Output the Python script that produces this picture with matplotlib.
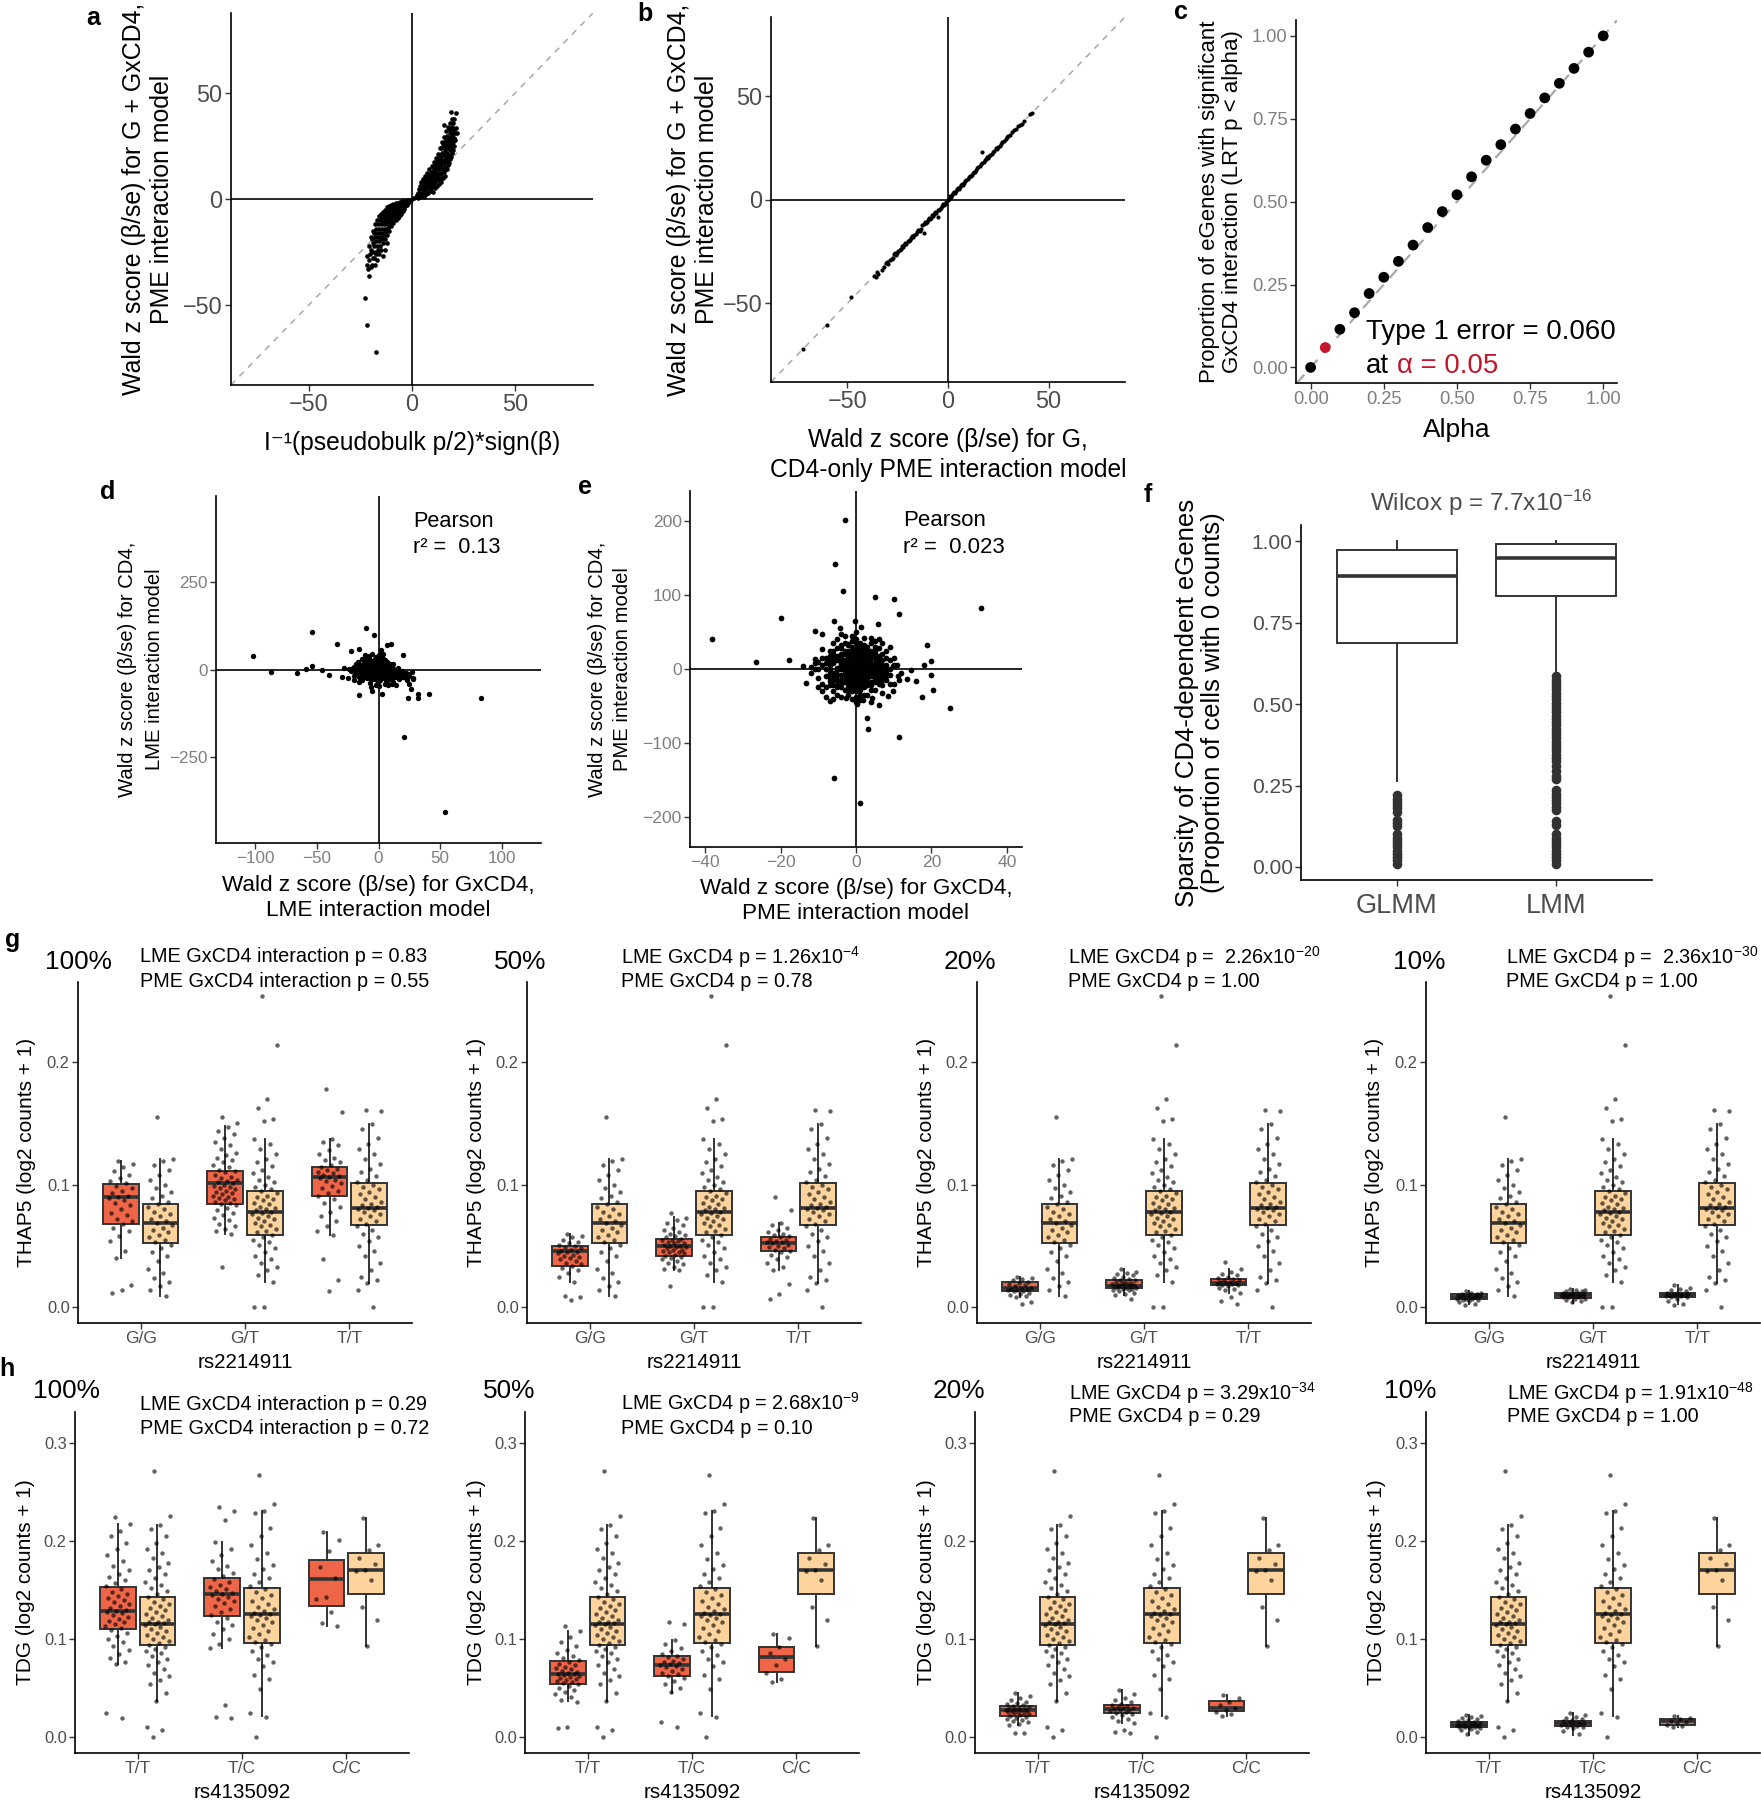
import numpy as np
import matplotlib
matplotlib.use("Agg")
import matplotlib.pyplot as plt

plt.rcParams['font.family'] = ['Liberation Sans', 'DejaVu Sans']
plt.rcParams['mathtext.fontset'] = 'custom'
plt.rcParams['mathtext.rm'] = 'Liberation Sans'
plt.rcParams['mathtext.it'] = 'Liberation Sans:italic'
plt.rcParams['mathtext.default'] = 'regular'

# ---------------- data ----------------
# a: pseudobulk vs PME Wald z (positive and negative arms)
a_pos = [(1, 0.5), (2, 1), (2.5, 2), (3, 0.5), (3, 3), (3.5, 4.5), (4, 1), (4, 3), (4, 6), (4.5, 8),
         (5, 2), (5, 4.5), (5, 7), (5.5, 9.5), (6, 1), (6, 3.5), (6, 6), (6, 8.5), (6.5, 11), (7, 2.5),
         (7, 5), (7, 7.5), (7, 10), (7.5, 12.5), (8, 3), (8, 6), (8, 9), (8, 11.5), (8.5, 14), (9, 4),
         (9, 7), (9, 10), (9, 13), (9.5, 15.5), (10, 3.5), (10, 6), (10, 9), (10, 12), (10, 15), (10.5, 17.5),
         (11, 5), (11, 8), (11, 11), (11, 14), (11, 17), (11.5, 19.5), (12, 6), (12, 9), (12, 12.5), (12, 16),
         (12, 19), (12.5, 21.5), (13, 7), (13, 10), (13, 14), (13, 17.5), (13, 21), (13.5, 24), (14, 8), (14, 12),
         (14, 16), (14, 20), (14, 24), (14.5, 27), (15, 10), (15, 14), (15, 18), (15, 22), (15, 26), (15.5, 29.5),
         (16, 11), (16, 15), (16, 19), (16, 23), (16, 27), (16.5, 32), (17, 14), (17, 18), (17, 22), (17, 26),
         (17, 30), (17.5, 34), (18, 17), (18, 21), (18, 25), (18, 29), (18, 33), (18.5, 36), (19, 20), (19, 24),
         (19, 28), (19, 32), (19, 41), (20, 23), (20, 27), (20, 31), (20, 36), (21, 28), (21, 31), (21.3, 40.6),
         (15.7, 35), (22, 31), (21.5, 33.5), (9.5, 5.5), (12.5, 14.5), (16.5, 21), (18.5, 27), (20.5, 25),
         (3.5, 1.5), (4.5, 2.5), (5.5, 3), (5.5, 6), (6.5, 4.5), (6.5, 7.5), (7.5, 3.5), (7.5, 6.5), (7.5, 9),
         (8.5, 5), (8.5, 8), (8.5, 10.5), (9.5, 8.5), (9.5, 12), (10.5, 7.5), (10.5, 10.5), (10.5, 13.5),
         (11.5, 9.5), (11.5, 12.5), (11.5, 16), (12.5, 11), (12.5, 18), (13.5, 9), (13.5, 12.5), (13.5, 16),
         (13.5, 19.5), (14.5, 10), (14.5, 14), (14.5, 18), (14.5, 22), (15.5, 13), (15.5, 17), (15.5, 21),
         (15.5, 25), (16.5, 14), (16.5, 18), (16.5, 25), (16.5, 28.5), (17.5, 16), (17.5, 20), (17.5, 24),
         (17.5, 28), (18.5, 19), (18.5, 23), (18.5, 31), (19.5, 22), (19.5, 26), (19.5, 30), (19.5, 34),
         (20.5, 29), (20.5, 33), (20.5, 38), (19.5, 38)]
a_neg = [(-0.5, -0.3), (-1, -0.5), (-1.5, -1), (-2, -0.5), (-2, -2), (-2.5, -1.5), (-3, -0.8), (-3, -2.5),
         (-3.5, -1.5), (-4, -1), (-4, -3), (-4, -4.5), (-5, -1), (-5, -3), (-5, -5.5), (-6, -1.5), (-6, -3.5),
         (-6, -6), (-6, -7.5), (-7, -2), (-7, -4), (-7, -6.5), (-7, -9), (-8, -2), (-8, -4.5), (-8, -7),
         (-8, -10), (-9, -2.5), (-9, -5), (-9, -8), (-9, -11.5), (-10, -3), (-10, -6), (-10, -9), (-10, -13),
         (-11, -3.5), (-11, -7), (-11, -10.5), (-11, -15), (-12, -4), (-12, -8), (-12, -12), (-12, -17),
         (-12, -21), (-13, -5), (-13, -9), (-13, -14), (-13, -19), (-13, -24), (-14, -6), (-14, -11),
         (-14, -16), (-14, -21), (-14, -27), (-15, -7), (-15, -12), (-15, -18), (-15, -24), (-16, -8),
         (-16, -14), (-16, -20), (-16, -26), (-17, -10), (-17, -16), (-17, -22), (-17, -29), (-18, -12),
         (-18, -18), (-18, -25), (-18, -31), (-19, -15), (-19, -21), (-19, -28), (-20, -18), (-20, -24),
         (-20, -32), (-20.7, -36.5), (-21, -22), (-21, -29), (-22, -31), (-22, -27), (-23, -47),
         (-21.8, -59.6), (-17.5, -72.3),
         (-2.5, -3), (-3.5, -3.5), (-4.5, -2), (-4.5, -5.5), (-5.5, -2.5), (-5.5, -4.5), (-5.5, -7),
         (-6.5, -3), (-6.5, -5), (-6.5, -8), (-7.5, -3), (-7.5, -5.5), (-7.5, -8.5), (-8.5, -3.5), (-8.5, -6),
         (-8.5, -9), (-9.5, -4), (-9.5, -7), (-9.5, -10.5), (-10.5, -4.5), (-10.5, -8), (-10.5, -12),
         (-11.5, -5.5), (-11.5, -9), (-11.5, -13.5), (-12.5, -6), (-12.5, -10), (-12.5, -15), (-13.5, -7.5),
         (-13.5, -12), (-13.5, -17), (-14.5, -9), (-14.5, -14), (-14.5, -19), (-15.5, -10), (-15.5, -16),
         (-15.5, -22), (-16.5, -12), (-16.5, -18), (-16.5, -24), (-17.5, -14), (-17.5, -20), (-17.5, -26),
         (-18.5, -16), (-18.5, -22), (-18.5, -28), (-19.5, -19), (-19.5, -25), (-19.5, -31), (-20.5, -26),
         (-21.5, -33)]

# b: G-only vs G + GxCD4 Wald z
b_pts = [(-72, -72), (-60, -60.5), (-48, -47), (-37, -37), (-36, -37.5), (-35, -36), (-33, -34), (-31, -30.5),
         (-30, -31), (-29, -29), (-28, -28.5), (-27, -26.5), (-26, -27), (-25, -25), (-24, -24.5), (-23, -22.5),
         (-22, -22), (-21, -21.5), (-20, -20), (-19, -19.5), (-18, -17.5), (-17, -17), (-16, -16.5), (-15, -14.5),
         (-14, -15), (-13, -12.5), (-12, -12), (-12, -16), (-11, -11.5), (-10, -10), (-9, -9.5), (-8, -7.5),
         (-7, -7), (-6, -6.5), (-5, -5), (-5, -8.5), (-4, -4.5), (-3, -3), (-2, -2.5), (-1, -1), (0, 0),
         (1, 1.5), (2, 2), (3, 3.5), (4, 4), (5, 5.5), (6, 6), (7, 7.5), (8, 8), (9, 9.5), (10, 10),
         (11, 11.5), (12, 12), (13, 13.5), (14, 14), (15, 15.5), (16, 16), (17, 23), (17, 17.5), (18, 18),
         (19, 19.5), (20, 20), (21, 21.5), (22, 22), (23, 23.5), (24, 25), (25, 25.5), (26, 26), (27, 27.5),
         (28, 28), (30, 30.5), (31, 31), (33, 33.5), (34, 34), (35, 35.5), (36, 36), (41, 41), (42, 41.5),
         (-26.5, -26), (-22.5, -23), (-18.5, -18.8), (-9.5, -9), (6.5, 7), (12.5, 12.8), (19.5, 20.3), (29, 29.3),
         (-35.5, -35), (-32, -32.5), (-30.5, -30), (-27.5, -28), (-25.5, -26), (-23.5, -24), (-21.5, -21),
         (-19.5, -20.2), (-17.5, -18), (-15.5, -15.5), (-13.5, -14), (-11.5, -11), (-10.5, -11), (-8.5, -9),
         (-7.5, -8), (-6.5, -6), (-4.5, -5), (-3.5, -4), (-2.5, -2), (-1.5, -2), (0.5, 0.3), (1.5, 1.2),
         (2.5, 3), (3.5, 3.2), (4.5, 5), (5.5, 5.2), (7.5, 7.2), (8.5, 9), (10.5, 11), (11.5, 11.2),
         (13.5, 13.2), (14.5, 15), (16.5, 17), (18.5, 19), (20.5, 21), (22.5, 23), (24.5, 24.5), (26.5, 27),
         (29.5, 30), (32, 32.5), (37, 36.5), (38, 38)]

# c: type 1 error calibration
c_alpha = [0.0, 0.05, 0.10, 0.15, 0.20, 0.25, 0.30, 0.35, 0.40, 0.45, 0.50, 0.55, 0.60, 0.65, 0.70,
           0.75, 0.80, 0.85, 0.90, 0.95, 1.0]
c_prop = [0.0, 0.060, 0.115, 0.165, 0.223, 0.272, 0.320, 0.369, 0.422, 0.470, 0.521, 0.575, 0.625,
          0.672, 0.719, 0.766, 0.813, 0.857, 0.902, 0.951, 1.0]

# d: LME GxCD4 vs CD4 Wald z
d_out = [(-102, 38), (-87, -8), (-66, -11), (-54, 107), (-54, 9), (-59, 1), (-34, 74), (-46, -2), (-40, -16),
         (-25, -25), (-10, 118), (-4, 97), (83, -82), (21, -193), (54, -407), (41, -70), (32, -82), (24, -80),
         (32, -70), (20, 40), (-16, -73), (-5, -60), (3, -70), (7, 69), (10, 72), (-16, 57), (-22, 53),
         (-28, 5), (-30, -20), (-20, -30), (25, -40), (28, -25), (22, -15), (26, -55)]
d_core = [(-22, -5), (-20, 8), (-19, -12), (-17, 20), (-17, 0), (-16, -22), (-15, 10), (-14, -8), (-13, 30),
          (-13, -30), (-12, 18), (-12, 2), (-11, -15), (-10, 25), (-10, -2), (-9, -25), (-9, 12), (-8, 38),
          (-8, -10), (-7, 5), (-7, -38), (-6, 20), (-6, -18), (-5, -3), (-5, 45), (-4, 12), (-4, -28),
          (-3, 30), (-3, 2), (-3, -12), (-2, -45), (-2, 20), (-1, -22), (-1, 8), (0, 40), (0, -5), (0, 15),
          (0, -32), (1, 25), (1, 0), (1, -15), (2, 55), (2, -8), (2, 10), (3, -25), (3, 35), (3, 3), (4, -12),
          (4, 18), (5, -40), (5, 0), (5, 28), (6, -20), (6, 10), (7, -5), (7, 22), (8, -30), (8, 5), (9, -15),
          (9, 15), (10, -2), (10, -25), (11, 8), (12, -12), (12, -35), (13, 0), (14, -20), (15, -8), (16, 5),
          (17, -28), (18, -15), (19, -3), (20, -22), (22, -10), (23, -30), (25, -18), (27, -8), (28, -28),
          (-24, 2), (-20, -18), (-18, 15), (-11, 40), (-6, -50), (0, -48), (4, 45), (8, -45), (11, -40),
          (14, -45), (-16, -35), (-1, 0), (1, -4), (-2, 6), (2, -2), (0, 8), (0, -12), (-6, 0), (6, -8),
          (-14, 0), (-13, 12), (-12, -10), (-11, 22), (-11, -5), (-10, 8), (-10, -20), (-9, 0), (-9, 30),
          (-8, 18), (-8, -18), (-7, -8), (-7, 28), (-6, 2), (-6, -28), (-5, 10), (-5, -12), (-4, 25), (-4, -2),
          (-3, -20), (-3, 15), (-2, -8), (-2, 35), (-1, 15), (-1, -30), (0, 25), (0, -20), (1, 8), (1, -25),
          (1, 40), (2, -15), (2, 22), (3, 12), (3, -12), (4, -5), (4, 30), (5, 12), (5, -20), (6, -30), (6, 22),
          (7, 3), (7, -12), (8, 15), (8, -22), (9, -8), (10, 8), (10, -12), (11, -20), (12, 2), (13, -15),
          (14, -8), (15, -18), (16, -2), (18, -22), (-16, 5), (-18, -8), (-15, -12), (12, 15), (-13, -18),
          (20, -10),
          (-18, 2), (-16, -10), (-15, 0), (-14, 14), (-13, 5), (-12, -18), (-11, 10), (-10, -8), (-10, 15),
          (-9, 5), (-9, -15), (-8, 0), (-8, 25), (-7, 12), (-7, -15), (-6, -5), (-6, 8), (-5, 20), (-5, -20),
          (-4, 0), (-4, -15), (-3, 8), (-3, -5), (-2, -20), (-2, 12), (-1, -10), (-1, 28), (0, 5), (0, -8),
          (0, 30), (1, -30), (1, 15), (2, 0), (2, -20), (3, 20), (3, -8), (4, 5), (4, -18), (5, -5), (5, 15),
          (6, -12), (6, 2), (7, -25), (7, 10), (8, -8), (9, 2), (9, -20), (10, -8), (11, -2), (12, -20),
          (13, -5), (14, -12), (16, -15), (17, -5), (19, -15), (21, -20), (24, -12), (-20, -2), (-21, 5),
          (-12, -2)]

# e: PME GxCD4 vs CD4 Wald z
e_out = [(-3, 202), (-5.5, 142), (-3.5, 105), (5, 98), (10.2, 95), (11.4, 75), (33, 82), (-19.8, 69),
         (-38.2, 40), (-26.6, 9.5), (-17.7, 12.7), (-5.8, 65), (-0.3, 65), (1.3, 57), (5.9, 61.5),
         (-11, 51.6), (-8.9, 48), (-4.2, 56), (18.8, 32), (19.8, 11), (18, 5), (20.3, -28.5), (19.8, -8.6),
         (24.9, -52.5), (17.5, -37.6), (16, -16), (14.7, -2), (11.3, -91.4), (3.3, -81.4), (3, -67),
         (6.2, -49), (8.5, -36), (9.8, -30), (-5.7, -148), (1.1, -181), (-6.9, -44), (-13.3, -19),
         (-10, -25), (-7.9, -24), (0.2, -47), (1.9, -42.5), (4.3, -39), (-2.7, -39), (11.5, -15.4),
         (13.4, -13), (9.9, 4.5), (10.9, 5.4), (-14, 3.6), (-12, 2.7), (-11, 13.6), (-4, 32), (-9, 27),
         (4, 42), (-2, 34)]
e_core = [(-9, 5), (-8, -10), (-8, 15), (-7, 0), (-7, 25), (-7, -22), (-6, 8), (-6, -5), (-6, 35), (-6, -30),
          (-5, 18), (-5, -15), (-5, 2), (-5, 40), (-4, -8), (-4, 12), (-4, 28), (-4, -25), (-4, -38), (-3, 0),
          (-3, 20), (-3, -18), (-3, 45), (-3, 8), (-2, -5), (-2, 15), (-2, 32), (-2, -28), (-2, -12), (-1, 5),
          (-1, -20), (-1, 25), (-1, -40), (-1, 38), (0, 0), (0, 12), (0, -10), (0, 28), (0, -30), (0, 50),
          (0, -45), (1, -5), (1, 18), (1, -18), (1, 35), (1, 6), (2, 0), (2, -25), (2, 22), (2, -12), (2, 42),
          (3, 10), (3, -8), (3, 30), (3, -35), (3, -2), (4, 15), (4, -18), (4, 2), (4, 25), (5, -10), (5, 8),
          (5, -28), (5, 38), (6, 0), (6, 18), (6, -20), (7, -5), (7, 12), (7, -32), (8, 5), (8, -15), (8, 25),
          (9, -8), (9, 0), (10, -20), (-10, -12), (-10, 10), (-11, 0), (10, 15), (-12, -5), (12, -5),
          (-9, -30), (9, 30), (-1, -2), (1, 2), (-2, 3), (2, -3), (0, 5), (0, -5), (-3, -3), (3, 3), (-1, 10),
          (1, -10), (-6, -40), (6, 40), (-4, 48), (4, -45), (-8, -38), (7, 35), (-7, 12), (7, -15), (-5, -22),
          (5, 20), (-2, -35), (2, 32),
          (-8, 0), (-7, -12), (-7, 18), (-6, -15), (-6, 25), (-5, -8), (-5, 28), (-4, -15), (-4, 20), (-4, 5),
          (-3, -28), (-3, 12), (-3, 35), (-2, -20), (-2, 8), (-2, 24), (-1, -10), (-1, 15), (-1, -30), (0, 20),
          (0, -20), (0, 35), (0, -38), (1, -28), (1, 10), (1, 25), (2, -5), (2, 15), (2, -35), (3, -18),
          (3, 20), (3, 5), (4, -10), (4, 35), (4, -28), (5, 0), (5, 15), (5, -18), (6, -10), (6, 28), (7, 5),
          (7, -22), (8, -5), (8, 15), (-9, -20), (-9, 15), (9, -20), (9, 12), (-1, 45), (1, -42), (-5, -35),
          (5, 30), (-10, 0), (10, 5), (11, -10), (-11, 8),
          (-7, -5), (-7, 5), (-6, -10), (-6, 14), (-6, 20), (-5, -25), (-5, 12), (-5, -2), (-4, -20), (-4, 0),
          (-4, 8), (-4, 16), (-3, -8), (-3, -14), (-3, 25), (-3, 4), (-2, 0), (-2, -16), (-2, 10), (-2, 20),
          (-2, -24), (-1, 0), (-1, -6), (-1, 20), (-1, 30), (-1, -15), (-1, -25), (0, 2), (0, -2), (0, 10),
          (0, -15), (0, -25), (0, 15), (0, 24), (0, 40), (1, 0), (1, 14), (1, -14), (1, 22), (1, -22), (1, 30),
          (1, -35), (2, 5), (2, -8), (2, 10), (2, 18), (2, -18), (2, 28), (3, 0), (3, -12), (3, 15), (3, -22),
          (3, 25), (4, -5), (4, 8), (4, -22), (4, 20), (5, -4), (5, 4), (5, -14), (5, 25), (6, -5), (6, 5),
          (6, 12), (6, -14), (7, 0), (7, -10), (7, 20), (-7, -16), (-6, -22), (-8, 8), (8, -10), (8, 0)]

# f: sparsity boxplots (whislo, q1, med, q3, whishi)
f_groups = ['GLMM', 'LMM']
f_glmm_box = [0.265, 0.688, 0.893, 0.972, 1.0]
f_lmm_box = [0.595, 0.832, 0.948, 0.992, 1.0]
f_glmm_out = [0.22, 0.21, 0.2, 0.19, 0.18, 0.17, 0.145, 0.135, 0.125, 0.1, 0.09, 0.08, 0.07, 0.06,
              0.05, 0.04, 0.03, 0.02, 0.01]
f_lmm_out = [0.585, 0.575, 0.565, 0.555, 0.545, 0.535, 0.525, 0.515, 0.505, 0.495, 0.485, 0.475, 0.465,
             0.455, 0.445, 0.435, 0.425, 0.415, 0.405, 0.395, 0.385, 0.375, 0.365, 0.355, 0.345, 0.335,
             0.325, 0.31, 0.295, 0.28, 0.27, 0.235, 0.225, 0.215, 0.205, 0.195, 0.185, 0.175, 0.14, 0.13,
             0.1, 0.09, 0.08, 0.07, 0.06, 0.05, 0.04, 0.03, 0.02, 0.01]

# g: THAP5 by rs2214911 genotype
thap5_genos = ['G/G', 'G/T', 'T/T']
thap5_levels = ['100%', '50%', '20%', '10%']
thap5_yel_box = [[0.009, 0.052, 0.069, 0.084, 0.121], [0.021, 0.0585, 0.078, 0.095, 0.137],
                 [0.020, 0.0667, 0.081, 0.101, 0.149]]
thap5_yel_GG = [0.155, 0.121, 0.119, 0.116, 0.112, 0.108, 0.104, 0.100, 0.097, 0.094, 0.091, 0.089, 0.086,
                0.084, 0.082, 0.080, 0.078, 0.076, 0.074, 0.072, 0.070, 0.069, 0.067, 0.065, 0.063, 0.061,
                0.059, 0.057, 0.055, 0.053, 0.051, 0.048, 0.045, 0.042, 0.038, 0.031, 0.028, 0.024, 0.021,
                0.017, 0.014, 0.009]
thap5_yel_GT = [0.254, 0.214, 0.170, 0.162, 0.153, 0.152, 0.137, 0.133, 0.129, 0.125, 0.121, 0.118, 0.115,
                0.112, 0.109, 0.106, 0.104, 0.102, 0.100, 0.098, 0.096, 0.095, 0.093, 0.091, 0.090, 0.088,
                0.087, 0.085, 0.084, 0.082, 0.081, 0.080, 0.079, 0.078, 0.077, 0.076, 0.074, 0.073, 0.072,
                0.070, 0.069, 0.067, 0.066, 0.064, 0.062, 0.061, 0.059, 0.057, 0.055, 0.053, 0.051, 0.048,
                0.045, 0.042, 0.039, 0.036, 0.033, 0.030, 0.026, 0.021, 0.0, 0.0]
thap5_yel_TT = [0.161, 0.160, 0.149, 0.145, 0.138, 0.133, 0.129, 0.125, 0.121, 0.117, 0.113, 0.110, 0.107,
                0.104, 0.102, 0.100, 0.098, 0.096, 0.094, 0.092, 0.090, 0.088, 0.086, 0.084, 0.083, 0.082,
                0.081, 0.080, 0.079, 0.078, 0.076, 0.074, 0.072, 0.070, 0.068, 0.066, 0.063, 0.060, 0.057,
                0.054, 0.050, 0.046, 0.042, 0.036, 0.030, 0.025, 0.022, 0.020, 0.014, 0.0]

thap5_red100_box = [[0.040, 0.068, 0.090, 0.1005, 0.119], [0.060, 0.084, 0.101, 0.111, 0.148],
                    [0.059, 0.091, 0.106, 0.114, 0.137]]
thap5_red100_GG = [0.119, 0.117, 0.114, 0.111, 0.108, 0.105, 0.103, 0.101, 0.099, 0.097, 0.095, 0.093,
                   0.091, 0.090, 0.089, 0.087, 0.085, 0.083, 0.080, 0.077, 0.075, 0.072, 0.070, 0.068,
                   0.065, 0.062, 0.058, 0.054, 0.046, 0.040, 0.018, 0.014, 0.012]
thap5_red100_GT = [0.155, 0.150, 0.147, 0.144, 0.141, 0.138, 0.135, 0.132, 0.129, 0.126, 0.124, 0.122,
                   0.120, 0.118, 0.116, 0.114, 0.112, 0.111, 0.110, 0.108, 0.106, 0.105, 0.104, 0.103,
                   0.102, 0.101, 0.100, 0.099, 0.098, 0.097, 0.096, 0.095, 0.094, 0.093, 0.092, 0.091,
                   0.090, 0.089, 0.088, 0.087, 0.086, 0.085, 0.084, 0.083, 0.081, 0.079, 0.077, 0.075,
                   0.073, 0.071, 0.068, 0.066, 0.064, 0.062, 0.060, 0.033]
thap5_red100_TT = [0.178, 0.159, 0.137, 0.135, 0.132, 0.128, 0.125, 0.122, 0.120, 0.118, 0.116, 0.114,
                   0.113, 0.112, 0.110, 0.109, 0.108, 0.107, 0.106, 0.105, 0.104, 0.103, 0.101, 0.099,
                   0.097, 0.095, 0.093, 0.091, 0.088, 0.085, 0.082, 0.078, 0.074, 0.070, 0.066, 0.062,
                   0.059, 0.039, 0.022, 0.013]

thap5_red50_box = [[0.021, 0.034, 0.0455, 0.050, 0.060], [0.030, 0.0415, 0.050, 0.0558, 0.0734],
                   [0.030, 0.0455, 0.0526, 0.057, 0.069]]
thap5_red50_GG = [0.060, 0.058, 0.057, 0.055, 0.053, 0.052, 0.051, 0.050, 0.049, 0.048, 0.047, 0.046,
                  0.045, 0.045, 0.044, 0.043, 0.042, 0.041, 0.040, 0.039, 0.038, 0.036, 0.035, 0.034,
                  0.032, 0.030, 0.028, 0.025, 0.021, 0.009, 0.008, 0.006]
thap5_red50_GT = [0.077, 0.073, 0.071, 0.069, 0.067, 0.065, 0.063, 0.061, 0.060, 0.059, 0.058, 0.057,
                  0.056, 0.055, 0.055, 0.054, 0.053, 0.052, 0.052, 0.051, 0.050, 0.050, 0.049, 0.049,
                  0.048, 0.047, 0.047, 0.046, 0.045, 0.045, 0.044, 0.043, 0.042, 0.041, 0.040, 0.039,
                  0.038, 0.036, 0.035, 0.033, 0.031, 0.030, 0.017]
thap5_red50_TT = [0.090, 0.079, 0.069, 0.067, 0.065, 0.063, 0.061, 0.060, 0.059, 0.058, 0.057, 0.056,
                  0.055, 0.054, 0.053, 0.053, 0.052, 0.051, 0.050, 0.049, 0.048, 0.047, 0.046, 0.045,
                  0.043, 0.041, 0.039, 0.036, 0.033, 0.030, 0.019, 0.011, 0.007]

thap5_red20_box = [[0.008, 0.013, 0.0157, 0.0206, 0.025], [0.010, 0.016, 0.0173, 0.0225, 0.031],
                   [0.0117, 0.0179, 0.020, 0.0233, 0.031]]
thap5_red20_GG = [0.025, 0.024, 0.023, 0.022, 0.021, 0.020, 0.019, 0.018, 0.017, 0.016, 0.016, 0.015,
                  0.015, 0.014, 0.014, 0.013, 0.013, 0.012, 0.011, 0.010, 0.009, 0.008, 0.004, 0.003]
thap5_red20_GT = [0.031, 0.029, 0.028, 0.027, 0.026, 0.025, 0.024, 0.023, 0.022, 0.022, 0.021, 0.021,
                  0.020, 0.020, 0.019, 0.019, 0.018, 0.018, 0.018, 0.017, 0.017, 0.017, 0.016, 0.016,
                  0.016, 0.015, 0.015, 0.014, 0.014, 0.013, 0.012, 0.011, 0.010, 0.007]
thap5_red20_TT = [0.037, 0.031, 0.029, 0.027, 0.026, 0.025, 0.024, 0.023, 0.022, 0.022, 0.021, 0.021,
                  0.020, 0.020, 0.019, 0.019, 0.018, 0.018, 0.017, 0.016, 0.015, 0.014, 0.012, 0.008,
                  0.005, 0.003]

thap5_red10_box = [[0.003, 0.0065, 0.0084, 0.0106, 0.0133], [0.0035, 0.0079, 0.0098, 0.012, 0.015],
                   [0.003, 0.0084, 0.0103, 0.012, 0.018]]
thap5_red10_GG = [0.013, 0.012, 0.012, 0.011, 0.011, 0.010, 0.010, 0.009, 0.009, 0.009, 0.008, 0.008,
                  0.008, 0.007, 0.007, 0.007, 0.006, 0.006, 0.005, 0.004, 0.003, 0.002]
thap5_red10_GT = [0.015, 0.014, 0.014, 0.013, 0.013, 0.012, 0.012, 0.012, 0.011, 0.011, 0.011, 0.010,
                  0.010, 0.010, 0.010, 0.009, 0.009, 0.009, 0.009, 0.008, 0.008, 0.008, 0.007, 0.007,
                  0.006, 0.005, 0.004]
thap5_red10_TT = [0.018, 0.016, 0.015, 0.014, 0.013, 0.012, 0.012, 0.011, 0.011, 0.011, 0.010, 0.010,
                  0.010, 0.009, 0.009, 0.009, 0.008, 0.008, 0.007, 0.005, 0.003, 0.002]

thap5_notes = [["LME GxCD4 interaction p = 0.83", "PME GxCD4 interaction p = 0.55"],
               ["LME GxCD4 p = 1.26x10$^{-4}$", "PME GxCD4 p = 0.78"],
               ["LME GxCD4 p =  2.26x10$^{-20}$", "PME GxCD4 p = 1.00"],
               ["LME GxCD4 p =  2.36x10$^{-30}$", "PME GxCD4 p = 1.00"]]

# h: TDG by rs4135092 genotype
tdg_genos = ['T/T', 'T/C', 'C/C']
tdg_yel_box = [[0.0366, 0.094, 0.1156, 0.1427, 0.216], [0.0214, 0.0966, 0.126, 0.152, 0.231],
               [0.093, 0.1458, 0.170, 0.1875, 0.223]]
tdg_yel_TT = [0.271, 0.226, 0.216, 0.212, 0.205, 0.198, 0.192, 0.188, 0.183, 0.178, 0.174, 0.170, 0.166,
              0.162, 0.158, 0.155, 0.152, 0.149, 0.146, 0.143, 0.141, 0.138, 0.136, 0.134, 0.132, 0.130,
              0.128, 0.126, 0.124, 0.122, 0.120, 0.118, 0.117, 0.116, 0.115, 0.114, 0.112, 0.110, 0.108,
              0.106, 0.104, 0.102, 0.100, 0.098, 0.096, 0.094, 0.092, 0.090, 0.088, 0.086, 0.083, 0.080,
              0.077, 0.074, 0.070, 0.066, 0.062, 0.058, 0.054, 0.045, 0.037, 0.011, 0.007, 0.0]
tdg_yel_TC = [0.267, 0.238, 0.231, 0.229, 0.213, 0.205, 0.196, 0.188, 0.182, 0.176, 0.171, 0.166, 0.162,
              0.158, 0.154, 0.151, 0.148, 0.145, 0.142, 0.139, 0.136, 0.133, 0.131, 0.129, 0.127, 0.126,
              0.125, 0.124, 0.122, 0.120, 0.117, 0.114, 0.111, 0.108, 0.105, 0.102, 0.099, 0.097, 0.095,
              0.092, 0.088, 0.084, 0.080, 0.077, 0.073, 0.063, 0.059, 0.049, 0.025, 0.021, 0.0]
tdg_yel_CC = [0.223, 0.196, 0.191, 0.183, 0.177, 0.170, 0.169, 0.160, 0.133, 0.120, 0.093]

tdg_red100_box = [[0.075, 0.110, 0.129, 0.1536, 0.217], [0.091, 0.124, 0.146, 0.162, 0.199],
                  [0.113, 0.134, 0.161, 0.181, 0.209]]
tdg_red100_TT = [0.225, 0.217, 0.210, 0.205, 0.198, 0.192, 0.186, 0.180, 0.175, 0.170, 0.166, 0.163, 0.160,
                 0.157, 0.154, 0.151, 0.148, 0.146, 0.144, 0.142, 0.140, 0.138, 0.136, 0.134, 0.132, 0.130,
                 0.129, 0.128, 0.127, 0.125, 0.123, 0.121, 0.119, 0.117, 0.115, 0.113, 0.111, 0.109, 0.106,
                 0.103, 0.100, 0.097, 0.093, 0.089, 0.085, 0.081, 0.077, 0.075, 0.025, 0.020]
tdg_red100_TC = [0.235, 0.231, 0.221, 0.199, 0.192, 0.186, 0.180, 0.175, 0.171, 0.167, 0.164, 0.161, 0.158,
                 0.155, 0.153, 0.151, 0.149, 0.147, 0.146, 0.145, 0.143, 0.141, 0.139, 0.137, 0.134, 0.131,
                 0.128, 0.125, 0.122, 0.118, 0.114, 0.110, 0.105, 0.100, 0.095, 0.091, 0.033, 0.021, 0.020]
tdg_red100_CC = [0.209, 0.201, 0.190, 0.174, 0.162, 0.143, 0.141, 0.128, 0.116, 0.113]

tdg_red50_box = [[0.0366, 0.0546, 0.0647, 0.0773, 0.108], [0.045, 0.062, 0.0739, 0.0824, 0.0993],
                 [0.056, 0.0664, 0.0814, 0.0919, 0.105]]
tdg_red50_TT = [0.113, 0.108, 0.102, 0.097, 0.093, 0.089, 0.086, 0.083, 0.081, 0.079, 0.077, 0.075, 0.074,
                0.072, 0.071, 0.070, 0.068, 0.067, 0.066, 0.065, 0.064, 0.063, 0.062, 0.061, 0.060, 0.059,
                0.058, 0.057, 0.056, 0.055, 0.054, 0.052, 0.050, 0.048, 0.046, 0.044, 0.041, 0.038, 0.036,
                0.011, 0.009]
tdg_red50_TC = [0.118, 0.115, 0.099, 0.095, 0.091, 0.088, 0.085, 0.083, 0.082, 0.080, 0.078, 0.077, 0.076,
                0.075, 0.074, 0.073, 0.072, 0.070, 0.068, 0.066, 0.064, 0.062, 0.060, 0.057, 0.054, 0.050,
                0.046, 0.016, 0.011]
tdg_red50_CC = [0.105, 0.101, 0.092, 0.086, 0.080, 0.074, 0.066, 0.059, 0.056]

tdg_red20_box = [[0.0129, 0.022, 0.0275, 0.0315, 0.045], [0.0146, 0.0247, 0.0288, 0.0332, 0.0485],
                 [0.022, 0.0264, 0.0298, 0.0366, 0.0434]]
tdg_red20_TT = [0.045, 0.042, 0.040, 0.038, 0.036, 0.035, 0.034, 0.033, 0.032, 0.031, 0.030, 0.030, 0.029,
                0.029, 0.028, 0.028, 0.027, 0.027, 0.026, 0.026, 0.025, 0.025, 0.024, 0.023, 0.022, 0.021,
                0.020, 0.019, 0.018, 0.017, 0.016, 0.014, 0.013, 0.004, 0.004]
tdg_red20_TC = [0.048, 0.044, 0.040, 0.038, 0.036, 0.034, 0.033, 0.032, 0.031, 0.030, 0.030, 0.029, 0.028,
                0.028, 0.027, 0.026, 0.025, 0.024, 0.023, 0.021, 0.019, 0.017, 0.015, 0.007, 0.005, 0.004]
tdg_red20_CC = [0.043, 0.040, 0.036, 0.033, 0.030, 0.028, 0.026, 0.024, 0.022]

tdg_red10_box = [[0.0027, 0.0102, 0.0129, 0.0156, 0.023], [0.0027, 0.0119, 0.0146, 0.017, 0.0247],
                 [0.0102, 0.0129, 0.0163, 0.0186, 0.022]]
tdg_red10_TT = [0.023, 0.022, 0.021, 0.020, 0.019, 0.018, 0.017, 0.016, 0.016, 0.015, 0.015, 0.014, 0.014,
                0.013, 0.013, 0.013, 0.012, 0.012, 0.011, 0.011, 0.010, 0.010, 0.009, 0.008, 0.007, 0.005,
                0.003]
tdg_red10_TC = [0.025, 0.023, 0.021, 0.020, 0.019, 0.018, 0.017, 0.016, 0.016, 0.015, 0.015, 0.014, 0.014,
                0.013, 0.013, 0.012, 0.011, 0.010, 0.009, 0.006, 0.003]
tdg_red10_CC = [0.022, 0.020, 0.019, 0.017, 0.016, 0.015, 0.013, 0.012, 0.010]

tdg_notes = [["LME GxCD4 interaction p = 0.29", "PME GxCD4 interaction p = 0.72"],
             ["LME GxCD4 p = 2.68x10$^{-9}$", "PME GxCD4 p = 0.10"],
             ["LME GxCD4 p = 3.29x10$^{-34}$", "PME GxCD4 p = 0.29"],
             ["LME GxCD4 p = 1.91x10$^{-48}$", "PME GxCD4 p = 1.00"]]

# ---------------- helpers ----------------
W, H = 1761, 1800
fig = plt.figure(figsize=(W / 100, H / 100), dpi=100)

RED = '#EF6548'
YEL = '#FDD49E'
EDGE = '#333333'
CRIMSON = '#C4162A'
DASH = (0, (4, 4))


def rect_to_fig(x0, y0, x1, y1):
    return [x0 / W, 1 - y1 / H, (x1 - x0) / W, (y1 - y0) / H]


def ftext(x, y, s, **kw):
    fig.text(x / W, 1 - y / H, s, **kw)


def classic(ax, tsize, tcolor):
    ax.spines[['top', 'right']].set_visible(False)
    ax.spines[['left', 'bottom']].set_linewidth(1.2)
    ax.tick_params(length=4, width=1.0, color='#333333', labelsize=tsize, labelcolor=tcolor, pad=2)


def place_labels(ax, rect, xlab_y=None, ylab_x=None):
    x0, y0, x1, y1 = rect
    if xlab_y is not None:
        ax.xaxis.set_label_coords(0.5, (y1 - xlab_y) / (y1 - y0))
        ax.xaxis.label.set_va('center')
    if ylab_x is not None:
        ax.yaxis.set_label_coords((ylab_x - x0) / (x1 - x0), 0.5)
        ax.yaxis.label.set_va('center')


def scatter_panel(rect, pts, lim, ticks, s, diag=False):
    ax = fig.add_axes(rect_to_fig(*rect))
    if diag:
        ax.axline((0, 0), slope=1, color='#A8A8A8', lw=1.1, ls=DASH, zorder=1)
    ax.axhline(0, color='black', lw=1.2, zorder=2)
    ax.axvline(0, color='black', lw=1.2, zorder=2)
    ax.scatter([p[0] for p in pts], [p[1] for p in pts], s=s, c='black', lw=0, zorder=3)
    ax.set_xlim(-lim[0], lim[0])
    ax.set_ylim(-lim[1], lim[1])
    ax.set_xticks(ticks[0])
    ax.set_yticks(ticks[1])
    return ax


def jitter(n, half):
    return ((np.arange(n) * 0.618034 + 0.37) % 1 - 0.5) * 2 * half


def draw_boxes(ax, stats, pos, color, width):
    st = [dict(whislo=b[0], q1=b[1], med=b[2], q3=b[3], whishi=b[4], fliers=[]) for b in stats]
    ax.bxp(st, positions=pos, widths=width, patch_artist=True, showfliers=False, showcaps=False,
           boxprops=dict(facecolor=color, edgecolor=EDGE, linewidth=1.4),
           medianprops=dict(color=EDGE, linewidth=2.6, solid_capstyle='butt'),
           whiskerprops=dict(color=EDGE, linewidth=1.4))


def geno_panel(rect, red_box, red_pts, yel_box, yel_pts, genos, ylim, yticks, ylab, xlab):
    ax = fig.add_axes(rect_to_fig(*rect))
    red_pos = [1 - 0.19, 2 - 0.19, 3 - 0.19]
    yel_pos = [1 + 0.19, 2 + 0.19, 3 + 0.19]
    draw_boxes(ax, red_box, red_pos, RED, 0.34)
    draw_boxes(ax, yel_box, yel_pos, YEL, 0.34)
    for pos, vals in zip(red_pos + yel_pos, red_pts + yel_pts):
        ax.scatter(pos + jitter(len(vals), 0.12), vals, s=10, c='black', alpha=0.62, lw=0, zorder=4)
    ax.set_xlim(0.4, 3.6)
    ax.set_ylim(*ylim)
    ax.set_xticks([1, 2, 3])
    ax.set_xticklabels(genos)
    ax.set_yticks(yticks)
    ax.set_yticklabels(['%.1f' % v for v in yticks])
    classic(ax, 11.9, '#4D4D4D')
    ax.tick_params(axis='x', labelsize=12.5)
    ax.set_ylabel(ylab, fontsize=15)
    ax.set_xlabel(xlab, fontsize=14.8)
    return ax


# ---------------- a ----------------
rect_a = (231, 13, 593, 385)
ax = scatter_panel(rect_a, a_pos + a_neg, (88, 88), ([-50, 0, 50], [-50, 0, 50]), 11, diag=True)
classic(ax, 16.8, '#4D4D4D')
ax.set_xlabel("I\u207b\u00b9(pseudobulk p/2)*sign(\u03b2)", fontsize=17.7)
ax.set_ylabel("Wald z score (\u03b2/se) for G + GxCD4,\nPME interaction model", fontsize=17.9, linespacing=1.2)
place_labels(ax, rect_a, 443, 148)

# ---------------- b ----------------
rect_b = (771, 17, 1125, 382)
ax = scatter_panel(rect_b, b_pts, (88, 88), ([-50, 0, 50], [-50, 0, 50]), 9, diag=True)
classic(ax, 16.8, '#4D4D4D')
ax.set_xlabel("Wald z score (\u03b2/se) for G,\nCD4-only PME interaction model", fontsize=17.7, linespacing=1.3)
ax.set_ylabel("Wald z score (\u03b2/se) for G + GxCD4,\nPME interaction model", fontsize=17.9, linespacing=1.2)
place_labels(ax, rect_b, 455, 693)

# ---------------- c ----------------
rect_c = (1296, 20, 1617, 383)
ax = fig.add_axes(rect_to_fig(*rect_c))
ax.axline((0, 0), slope=1, color='#A8A8A8', lw=1.6, ls=(0, (5, 4)), zorder=1)
ax.scatter(c_alpha, c_prop, s=60, c=['black' if a != 0.05 else CRIMSON for a in c_alpha], lw=0, zorder=3)
ax.set_xlim(-0.05, 1.047)
ax.set_ylim(-0.047, 1.048)
ax.set_xticks([0, 0.25, 0.5, 0.75, 1.0])
ax.set_yticks([0, 0.25, 0.5, 0.75, 1.0])
ax.set_xticklabels(['0.00', '0.25', '0.50', '0.75', '1.00'])
ax.set_yticklabels(['0.00', '0.25', '0.50', '0.75', '1.00'])
classic(ax, 13.2, '#7F7F7F')
ax.set_xlabel("Alpha", fontsize=19)
ax.set_ylabel("Proportion of eGenes with significant\nGxCD4 interaction (LRT p < alpha)", fontsize=16,
              linespacing=1.08)
place_labels(ax, rect_c, 430, 1221)
ftext(1366, 332, "Type 1 error = 0.060", fontsize=19.9, va='center', ha='left')
ftext(1366, 366, "at", fontsize=19.9, va='center', ha='left')
ftext(1397, 366, "\u03b1 = 0.05", fontsize=19.9, va='center', ha='left', color=CRIMSON)

# ---------------- d ----------------
rect_d = (216, 496, 541, 843)
ax = scatter_panel(rect_d, d_core + d_out, (132, 494), ([-100, -50, 0, 50, 100], [-250, 0, 250]), 15)
classic(ax, 12.3, '#7F7F7F')
ax.set_xlabel("Wald z score (\u03b2/se) for GxCD4,\nLME interaction model", fontsize=16.2, linespacing=1.3)
ax.set_ylabel("Wald z score (\u03b2/se) for CD4,\nLME interaction model", fontsize=14.6, linespacing=1.5)
place_labels(ax, rect_d, 898, 141)
ax.text(28, 421, "Pearson", fontsize=15.7, va='center', ha='left')
ax.text(28, 346, "r\u00b2 =  0.13", fontsize=15.7, va='center', ha='left')

# ---------------- e ----------------
rect_e = (690, 491, 1022, 847)
ax = scatter_panel(rect_e, e_core + e_out, (44, 241), ([-40, -20, 0, 20, 40], [-200, -100, 0, 100, 200]), 17)
classic(ax, 12.6, '#7F7F7F')
ax.set_xlabel("Wald z score (\u03b2/se) for GxCD4,\nPME interaction model", fontsize=16.2, linespacing=1.3)
ax.set_ylabel("Wald z score (\u03b2/se) for CD4,\nPME interaction model", fontsize=14.6, linespacing=1.4)
place_labels(ax, rect_e, 901, 610)
ax.text(12.4, 201, "Pearson", fontsize=16, va='center', ha='left')
ax.text(12.4, 164, "r\u00b2 =  0.023", fontsize=16, va='center', ha='left')

# ---------------- f ----------------
rect_f = (1301, 525, 1652, 880)
ax = fig.add_axes(rect_to_fig(*rect_f))
draw_boxes(ax, [f_glmm_box, f_lmm_box], [1, 2], 'white', 0.75)
ax.scatter([1] * len(f_glmm_out), f_glmm_out, s=48, c='#333333', lw=0, zorder=3)
ax.scatter([2] * len(f_lmm_out), f_lmm_out, s=48, c='#333333', lw=0, zorder=3)
ax.set_xlim(0.4, 2.6)
ax.set_ylim(-0.04, 1.05)
ax.set_xticks([1, 2])
ax.set_xticklabels(f_groups)
ax.set_yticks([0, 0.25, 0.5, 0.75, 1.0])
ax.set_yticklabels(['0.00', '0.25', '0.50', '0.75', '1.00'])
classic(ax, 15.1, '#4D4D4D')
ax.tick_params(axis='x', labelsize=19.6, pad=5)
ax.set_ylabel("Sparsity of CD4-dependent eGenes\n(Proportion of cells with 0 counts)", fontsize=18.5,
              linespacing=1.1)
place_labels(ax, rect_f, None, 1200)
ftext(1481, 503, "Wilcox p = 7.7x10$^{-16}$", fontsize=17.5, color='#4D4D4D', ha='center', va='center')

# ---------------- g ----------------
thap5_yel_pts = [thap5_yel_GG, thap5_yel_GT, thap5_yel_TT]
thap5_red_boxes = [thap5_red100_box, thap5_red50_box, thap5_red20_box, thap5_red10_box]
thap5_red_pts = [[thap5_red100_GG, thap5_red100_GT, thap5_red100_TT],
                 [thap5_red50_GG, thap5_red50_GT, thap5_red50_TT],
                 [thap5_red20_GG, thap5_red20_GT, thap5_red20_TT],
                 [thap5_red10_GG, thap5_red10_GT, thap5_red10_TT]]
g_lefts = [78, 527, 977, 1426]
g_note_dx = [62, 94, 91, 80]
for i, left in enumerate(g_lefts):
    rect = (left, 982, left + 334, 1323)
    ax = geno_panel(rect, thap5_red_boxes[i], thap5_red_pts[i], thap5_yel_box, thap5_yel_pts,
                    thap5_genos, (-0.0128, 0.265), [0.0, 0.1, 0.2], "THAP5 (log2 counts + 1)", "rs2214911")
    place_labels(ax, rect, 1362, left - 51)
    ftext(left - 33, 962, thap5_levels[i], fontsize=18.9, ha='left', va='center')
    ftext(left + g_note_dx[i], 957, thap5_notes[i][0], fontsize=14.3, ha='left', va='center')
    ftext(left + g_note_dx[i], 981, thap5_notes[i][1], fontsize=14.3, ha='left', va='center')

# ---------------- h ----------------
tdg_yel_pts = [tdg_yel_TT, tdg_yel_TC, tdg_yel_CC]
tdg_red_boxes = [tdg_red100_box, tdg_red50_box, tdg_red20_box, tdg_red10_box]
tdg_red_pts = [[tdg_red100_TT, tdg_red100_TC, tdg_red100_CC],
               [tdg_red50_TT, tdg_red50_TC, tdg_red50_CC],
               [tdg_red20_TT, tdg_red20_TC, tdg_red20_CC],
               [tdg_red10_TT, tdg_red10_TC, tdg_red10_CC]]
h_lefts = [75, 525, 975, 1426]
h_note_dx = [65, 96, 94, 81]
h_note_y = [(1404, 1428), (1403, 1428), (1393, 1417), (1393, 1417)]
for i, left in enumerate(h_lefts):
    rect = (left, 1412, left + 334, 1753)
    ax = geno_panel(rect, tdg_red_boxes[i], tdg_red_pts[i], tdg_yel_box, tdg_yel_pts,
                    tdg_genos, (-0.016, 0.3315), [0.0, 0.1, 0.2, 0.3], "TDG (log2 counts + 1)", "rs4135092")
    place_labels(ax, rect, 1793, left - 49)
    ftext(left - 42, 1391, thap5_levels[i], fontsize=18.9, ha='left', va='center')
    ftext(left + h_note_dx[i], h_note_y[i][0], tdg_notes[i][0], fontsize=14.3, ha='left', va='center')
    ftext(left + h_note_dx[i], h_note_y[i][1], tdg_notes[i][1], fontsize=14.3, ha='left', va='center')

# ---------------- panel letters ----------------
for letter, (x, y) in zip("abcdefgh", [(93, 18), (645, 14), (1181, 12), (108, 492), (585, 487),
                                       (1148, 495), (13, 940), (7, 1369)]):
    ftext(x, y, letter, fontsize=18, fontweight='bold', ha='center', va='center')

fig.savefig("out.png", dpi=100)
